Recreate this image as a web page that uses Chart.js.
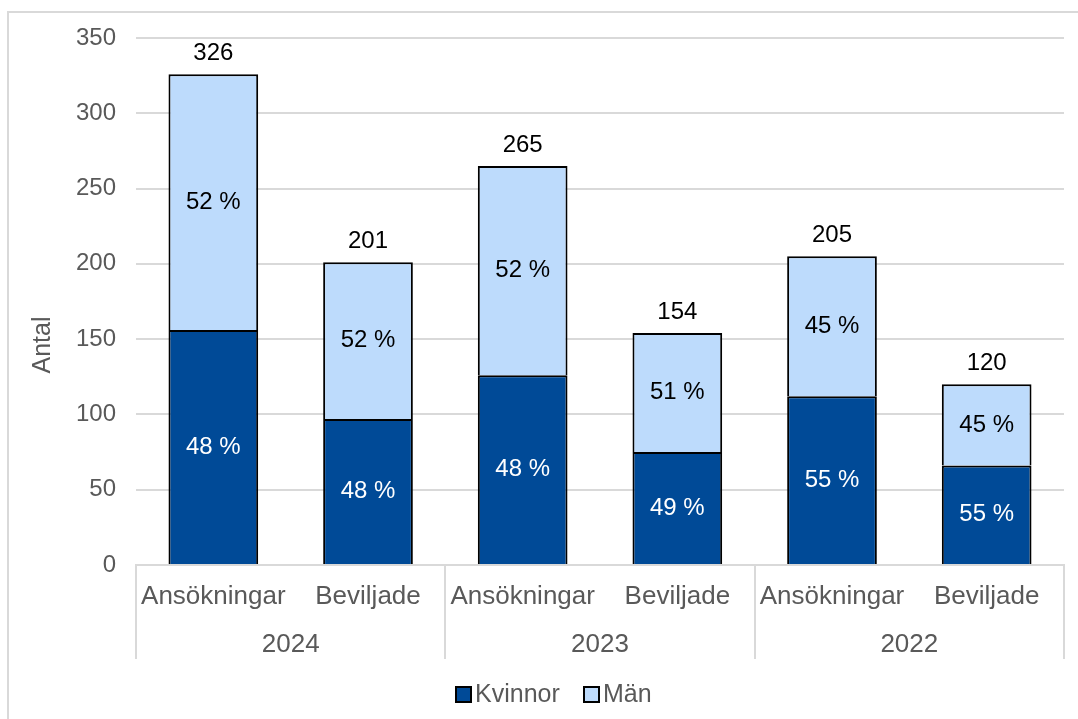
<!DOCTYPE html>
<html>
<head>
<meta charset="utf-8">
<script src="https://cdn.jsdelivr.net/npm/chart.js@4/dist/chart.umd.min.js"></script>
<style>
  html, body { margin: 0; padding: 0; background: #ffffff; }
  #wrap { position: relative; width: 1078px; height: 719px; }
  canvas { display: block; }
</style>
</head>
<body>
<div id="wrap"><canvas id="c" width="1078" height="719"></canvas></div>
<script>
// ---- Data ----
const categories = ['Ansökningar', 'Beviljade', 'Ansökningar', 'Beviljade', 'Ansökningar', 'Beviljade'];
const years = ['2024', '2023', '2022'];
const kvinnor = [156, 97, 126, 75, 112, 66];
const man = [170, 104, 139, 79, 93, 54];
const totals = [326, 201, 265, 154, 205, 120];
const kvinnorPct = ['48 %', '48 %', '48 %', '49 %', '55 %', '55 %'];
const manPct = ['52 %', '52 %', '52 %', '51 %', '45 %', '45 %'];
const seriesNames = ['Kvinnor', 'Män'];
const yTicks = [0, 50, 100, 150, 200, 250, 300, 350];
const yTitle = 'Antal';

// ---- Styles ----
const FONT = '"Liberation Sans", Arial, sans-serif';
const GRAY_TEXT = '#595959';
const GRID = '#d9d9d9';
const DARK = '#004a97';
const LIGHT = '#bddbfc';

const framePlugin = {
  id: 'frame',
  beforeDraw(chart) {
    const ctx = chart.ctx;
    ctx.save();
    ctx.strokeStyle = GRID;
    ctx.lineWidth = 2;
    ctx.beginPath();
    ctx.moveTo(8, 730);
    ctx.lineTo(8, 12);
    ctx.lineTo(1090, 12);
    ctx.stroke();
    ctx.restore();
  }
};

const groupAxisPlugin = {
  id: 'groupAxis',
  afterDraw(chart) {
    const ctx = chart.ctx;
    const xs = chart.scales.x;
    const area = chart.chartArea;
    ctx.save();
    // separators
    ctx.strokeStyle = GRID;
    ctx.lineWidth = 2;
    const step = (xs.getPixelForValue(1) - xs.getPixelForValue(0));
    for (let g = 0; g <= years.length; g++) {
      const x = Math.round(xs.getPixelForValue(g * 2) - step / 2);
      ctx.beginPath();
      ctx.moveTo(x, area.bottom);
      ctx.lineTo(x, area.bottom + 94);
      ctx.stroke();
    }
    // year labels
    ctx.fillStyle = GRAY_TEXT;
    ctx.font = '26px ' + FONT;
    ctx.textAlign = 'center';
    ctx.textBaseline = 'middle';
    years.forEach((y, g) => {
      const x = (xs.getPixelForValue(g * 2) + xs.getPixelForValue(g * 2 + 1)) / 2;
      ctx.fillText(y, x, area.bottom + 80);
    });
    // y title
    ctx.save();
    ctx.font = '25px ' + FONT;
    ctx.translate(43, 345);
    ctx.rotate(-Math.PI / 2);
    ctx.fillText(yTitle, 0, 0);
    ctx.restore();
    // legend
    ctx.font = '25px ' + FONT;
    const items = [
      { name: seriesNames[0], color: DARK, bx: 455, tx: 475 },
      { name: seriesNames[1], color: LIGHT, bx: 583, tx: 603 }
    ];
    items.forEach(it => {
      ctx.fillStyle = it.color;
      ctx.fillRect(it.bx, 686, 17, 17);
      ctx.strokeStyle = '#000000';
      ctx.lineWidth = 2;
      ctx.strokeRect(it.bx + 1, 687, 15, 15);
      ctx.fillStyle = GRAY_TEXT;
      ctx.textAlign = 'left';
      ctx.fillText(it.name, it.tx, 695);
    });
    ctx.restore();
  }
};

const labelPlugin = {
  id: 'barLabels',
  afterDatasetsDraw(chart) {
    const ctx = chart.ctx;
    ctx.save();
    ctx.font = '24px ' + FONT;
    ctx.textAlign = 'center';
    ctx.textBaseline = 'middle';
    const m0 = chart.getDatasetMeta(0);
    const m1 = chart.getDatasetMeta(1);
    m0.data.forEach((el, i) => {
      ctx.fillStyle = '#ffffff';
      ctx.fillText(kvinnorPct[i], el.x, (el.y + el.base) / 2);
    });
    m1.data.forEach((el, i) => {
      ctx.fillStyle = '#000000';
      ctx.fillText(manPct[i], el.x, (el.y + el.base) / 2);
      ctx.fillText(String(totals[i]), el.x, el.y - 21);
    });
    ctx.restore();
  }
};

new Chart(document.getElementById('c'), {
  type: 'bar',
  data: {
    labels: categories,
    datasets: [
      {
        label: seriesNames[0], data: kvinnor, backgroundColor: DARK,
        borderColor: '#000000', borderWidth: 2,
        categoryPercentage: 1, barPercentage: 0.58
      },
      {
        label: seriesNames[1], data: man, backgroundColor: LIGHT,
        borderColor: '#000000', borderWidth: 2,
        categoryPercentage: 1, barPercentage: 0.58
      }
    ]
  },
  options: {
    responsive: false,
    animation: false,
    devicePixelRatio: 1,
    layout: { padding: { left: 0, right: 14, top: 38, bottom: 0 } },
    plugins: { legend: { display: false }, tooltip: { enabled: false } },
    scales: {
      x: {
        stacked: true,
        grid: { display: false, drawTicks: false },
        border: { display: true, color: GRID, width: 2 },
        ticks: { color: GRAY_TEXT, font: { family: FONT, size: 26 }, padding: 16, maxRotation: 0, autoSkip: false },
        afterFit(scale) { scale.height = 154; }
      },
      y: {
        stacked: true,
        min: 0, max: 350,
        afterBuildTicks(scale) { scale.ticks = yTicks.map(v => ({ value: v })); },
        grid: { color: GRID, lineWidth: 2, drawTicks: false },
        border: { display: false },
        ticks: { color: GRAY_TEXT, font: { family: FONT, size: 24 }, padding: 20 },
        afterFit(scale) { scale.width = 136; }
      }
    }
  },
  plugins: [framePlugin, groupAxisPlugin, labelPlugin]
});
</script>
</body>
</html>
